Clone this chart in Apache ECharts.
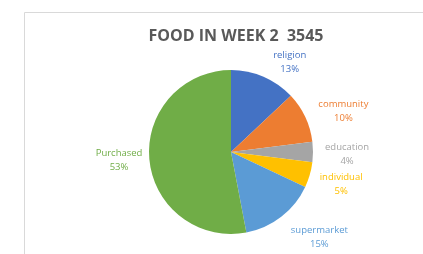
<!DOCTYPE html>
<html>
<head>
<meta charset="utf-8">
<script src="https://cdn.jsdelivr.net/npm/echarts@6/dist/echarts.min.js"></script>
<style>
  html, body { margin: 0; padding: 0; background: #fff; }
  #container { width: 423px; height: 254px; }
</style>
</head>
<body>
<div id="container"></div>
<script>
var categories = ['religion', 'community', 'education', 'individual', 'supermarket', 'Purchased'];
var values = [13, 10, 4, 5, 15, 53];
var colors = ['#4472C4', '#ED7D31', '#A5A5A5', '#FFC000', '#5B9BD5', '#70AD47'];

// small label nudges so they sit like the original
var labelNudge = {
    religion: [-1, -2], education: [-2, 2], individual: [-3, 2],
    supermarket: [-4, 9], Purchased: [12, -1]
};

var dom = document.getElementById('container');
var myChart = echarts.init(dom);

var data = [];
for (var i = 0; i < categories.length; i++) {
    data.push({
        name: categories[i],
        value: values[i],
        itemStyle: { color: colors[i] },
        label: { color: colors[i] }
    });
}

var option = {
    animation: false,
    graphic: [{
        type: 'rect',
        shape: { x: 24.5, y: 12.5, width: 420, height: 260 },
        style: { fill: 'none', stroke: '#d9d9d9', lineWidth: 1 }
    }],
    title: {
        text: 'FOOD IN WEEK 2  3545',
        left: 231,
        textAlign: 'center',
        top: 23,
        textStyle: {
            color: '#595959',
            fontSize: 16,
            fontWeight: 'bold',
            fontFamily: 'Open Sans'
        }
    },
    series: [{
        type: 'pie',
        center: [231, 152],
        radius: 82,
        startAngle: 90,
        clockwise: true,
        data: data,
        label: {
            position: 'outside',
            formatter: '{b}\n{d}%',
            fontSize: 9.5,
            fontFamily: 'Open Sans',
            lineHeight: 14
        },
        labelLine: { show: false, length: 14, length2: 0 },
        // centre every label on where the library put it
        labelLayout: function (params) {
            var r = params.labelRect;
            var n = labelNudge[categories[params.dataIndex]] || [0, 0];
            return {
                x: r.x + r.width / 2 + n[0],
                y: r.y + r.height / 2 + n[1],
                align: 'center',
                verticalAlign: 'middle'
            };
        }
    }]
};
myChart.setOption(option, true);
</script>
</body>
</html>
